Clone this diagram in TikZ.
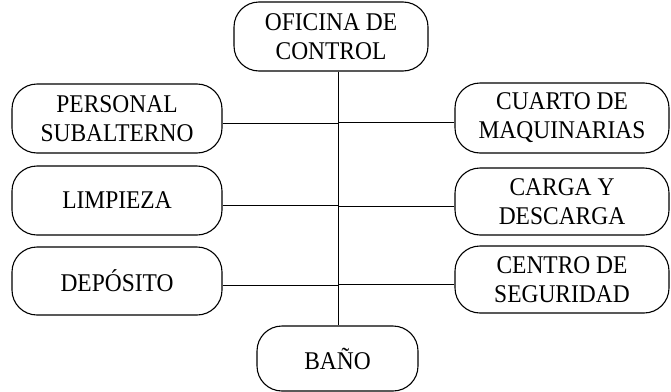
\documentclass[tikz,border=0pt]{standalone}
\usepackage{fontspec}
\setmainfont{Liberation Serif}[FakeStretch=0.92]
\usetikzlibrary{positioning}
\tikzset{
      areabox/.style={
        rounded corners=25pt,
        draw=black,
        line width=1.1pt,
        align=center,
        inner sep=2pt,
        font=\fontsize{25.5}{29}\selectfont
      },
      link/.style={
        draw=black,
        line width=1pt
      }
    }
\begin{document}
\begin{tikzpicture}[x=1pt,y=-1pt]
    \useasboundingbox (0,0) rectangle (671,391);
    \node[areabox, minimum width=194pt, minimum height=69pt] (ofic) at (331,36.5) {OFICINA DE\\CONTROL};
    \node[areabox, minimum width=210pt, minimum height=69pt] (pers) at (117,118.5) {PERSONAL\\SUBALTERNO};
    \node[areabox, minimum width=210pt, minimum height=69pt] (limp) at (117,200.5) {LIMPIEZA};
    \node[areabox, minimum width=210pt, minimum height=68pt] (depo) at (117,281) {DEPÓSITO};
    \node[areabox, minimum width=214pt, minimum height=70pt] (cuar) at (562,118) {CUARTO DE\\MAQUINARIAS};
    \node[areabox, minimum width=214pt, minimum height=67pt] (carg) at (562,201.5) {CARGA Y\\DESCARGA};
    \node[areabox, minimum width=214pt, minimum height=67pt] (cent) at (562,279.5) {CENTRO DE\\SEGURIDAD};
    \node[areabox, minimum width=161pt, minimum height=65pt] (bano) at (337.5,358.5) {BAÑO};
    % trunk
    \coordinate (ttop) at ([xshift=7pt]ofic.south);
    \draw[link] (ttop) -- (ttop |- bano.north);
    % branches
    \foreach \b in {pers,limp,depo}
      \draw[link] ([yshift=-4.5pt]\b.east) -- ([yshift=-4.5pt]\b.east -| ttop);
    \foreach \b in {cuar,carg,cent}
      \draw[link] ([yshift=-4.5pt]\b.west) -- ([yshift=-4.5pt]\b.west -| ttop);
    \end{tikzpicture}
\end{document}
